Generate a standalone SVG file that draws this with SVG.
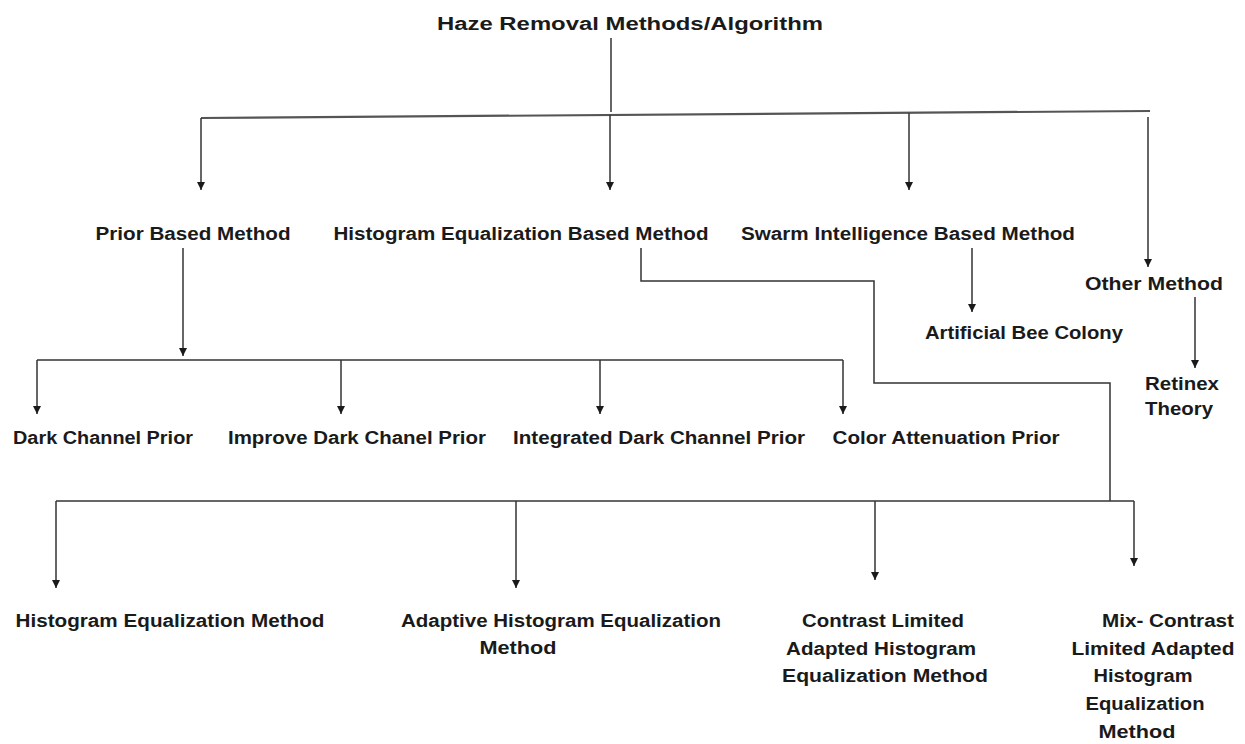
<svg xmlns="http://www.w3.org/2000/svg" width="1245" height="744" viewBox="0 0 1245 744">
<defs>
<marker id="ah" viewBox="0 0 8 10" refX="8" refY="5" markerWidth="8" markerHeight="10" markerUnits="userSpaceOnUse" orient="auto">
<path d="M0,1 L8,5 L0,9 Z" fill="#1a1a1a"/>
</marker>
<style>
text{font-family:"Liberation Sans",Arial,sans-serif;font-weight:bold;font-size:18px;fill:#1a1a1a;text-anchor:middle}
.c line,.c polyline{stroke:#333;stroke-width:1.5;fill:none}
.c .a{marker-end:url(#ah)}
</style>
</defs>
<rect width="1245" height="744" fill="#fff"/>
<g class="c" id="connectors">
<line x1="611" y1="38" x2="611" y2="112"/>
<line x1="201" y1="118" x2="1150" y2="111" style="stroke-width:2.2;stroke:#555"/>
<line class="a" x1="201" y1="118" x2="201" y2="190"/>
<line class="a" x1="610" y1="115" x2="610" y2="190"/>
<line class="a" x1="909" y1="113" x2="909" y2="190"/>
<line class="a" x1="1148" y1="117" x2="1148" y2="267"/>
<line class="a" x1="183" y1="248" x2="183" y2="356"/>
<line x1="37" y1="360" x2="843" y2="360"/>
<line class="a" x1="37" y1="360" x2="37" y2="414"/>
<line class="a" x1="341" y1="360" x2="341" y2="414"/>
<line class="a" x1="600" y1="360" x2="600" y2="414"/>
<line class="a" x1="843" y1="360" x2="843" y2="414"/>
<line class="a" x1="972" y1="248" x2="972" y2="312"/>
<line class="a" x1="1195" y1="297" x2="1195" y2="368"/>
<polyline points="641,248 641,281 874,281 874,383 1110,383 1110,501"/>
<line x1="56" y1="501" x2="1134" y2="501"/>
<line class="a" x1="56" y1="501" x2="56" y2="588"/>
<line class="a" x1="516" y1="501" x2="516" y2="588"/>
<line class="a" x1="875" y1="501" x2="875" y2="580"/>
<line class="a" x1="1134" y1="501" x2="1134" y2="566"/>
</g>
<g id="title"><text x="630" y="30" font-size="20" textLength="386" lengthAdjust="spacingAndGlyphs">Haze Removal Methods/Algorithm</text></g>
<g id="prior"><text x="193" y="240" textLength="195" lengthAdjust="spacingAndGlyphs">Prior Based Method</text></g>
<g id="histbased"><text x="521" y="240" textLength="375" lengthAdjust="spacingAndGlyphs">Histogram Equalization Based Method</text></g>
<g id="swarm"><text x="908" y="240" textLength="334" lengthAdjust="spacingAndGlyphs">Swarm Intelligence Based Method</text></g>
<g id="other"><text x="1154" y="290" textLength="138" lengthAdjust="spacingAndGlyphs">Other Method</text></g>
<g id="abc"><text x="1024" y="339" textLength="198" lengthAdjust="spacingAndGlyphs">Artificial Bee Colony</text></g>
<g id="retinex"><text x="1182" y="390" textLength="74" lengthAdjust="spacingAndGlyphs">Retinex</text><text x="1179" y="415" textLength="68" lengthAdjust="spacingAndGlyphs">Theory</text></g>
<g id="dcp"><text x="103" y="444" textLength="180" lengthAdjust="spacingAndGlyphs">Dark Channel Prior</text></g>
<g id="idcp"><text x="357" y="444" textLength="258" lengthAdjust="spacingAndGlyphs">Improve Dark Chanel Prior</text></g>
<g id="intdcp"><text x="659" y="444" textLength="292" lengthAdjust="spacingAndGlyphs">Integrated Dark Channel Prior</text></g>
<g id="cap"><text x="946" y="444" textLength="227" lengthAdjust="spacingAndGlyphs">Color Attenuation Prior</text></g>
<g id="hem"><text x="170" y="627" textLength="309" lengthAdjust="spacingAndGlyphs">Histogram Equalization Method</text></g>
<g id="ahem"><text x="561" y="627" textLength="320" lengthAdjust="spacingAndGlyphs">Adaptive Histogram Equalization</text><text x="518" y="654" textLength="77" lengthAdjust="spacingAndGlyphs">Method</text></g>
<g id="clahe"><text x="883" y="627" textLength="162" lengthAdjust="spacingAndGlyphs">Contrast Limited</text><text x="881" y="655" textLength="190" lengthAdjust="spacingAndGlyphs">Adapted Histogram</text><text x="885" y="682" textLength="206" lengthAdjust="spacingAndGlyphs">Equalization Method</text></g>
<g id="mclahe"><text x="1168" y="627" textLength="132" lengthAdjust="spacingAndGlyphs">Mix- Contrast</text><text x="1153" y="655" textLength="163" lengthAdjust="spacingAndGlyphs">Limited Adapted</text><text x="1143" y="682" textLength="99" lengthAdjust="spacingAndGlyphs">Histogram</text><text x="1145" y="710" textLength="119" lengthAdjust="spacingAndGlyphs">Equalization</text><text x="1137" y="738" textLength="77" lengthAdjust="spacingAndGlyphs">Method</text></g>
</svg>
